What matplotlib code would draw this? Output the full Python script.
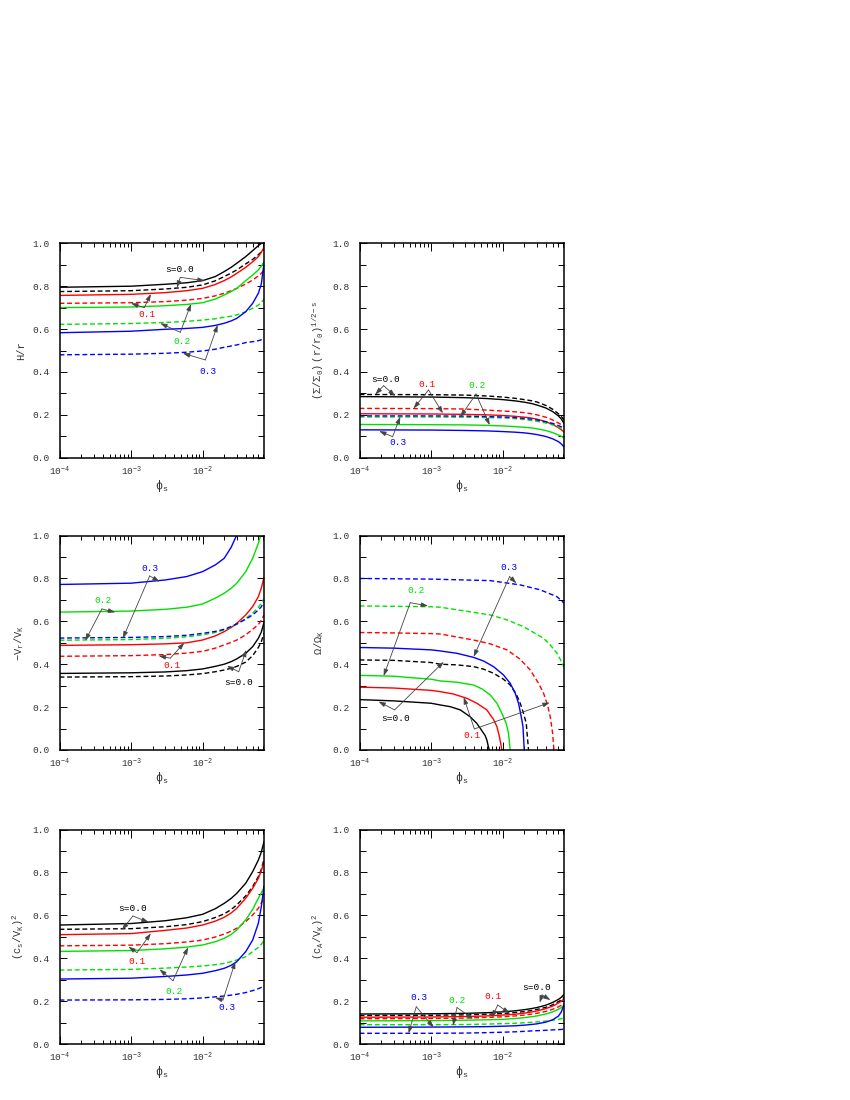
import numpy as np
import matplotlib
matplotlib.use('Agg')
import matplotlib.pyplot as plt
from matplotlib.ticker import MultipleLocator, FormatStrFormatter, LogLocator, NullFormatter, FuncFormatter

# curves for s = 0.0, 0.1, 0.2, 0.3 (solid and dashed families)
s_labels = ['s=0.0', '0.1', '0.2', '0.3']
colors = ['black', 'red', '#00e000', 'blue']

phi = [1e-4, 1e-3, 3e-3, 6e-3, 1e-2, 1.5e-2, 2e-2, 2.5e-2, 3e-2, 4e-2, 5e-2, 6e-2, 6.6e-2, 7.2e-2]
nan = np.nan

# H/r
h_solid = [
    [0.795, 0.80, 0.809, 0.816, 0.826, 0.845, 0.868, 0.888, 0.907, 0.938, 0.966, 0.989, 1.0, 1.01],
    [0.757, 0.762, 0.77, 0.779, 0.79, 0.808, 0.826, 0.843, 0.86, 0.888, 0.914, 0.938, 0.958, 0.981],
    [0.70, 0.703, 0.709, 0.715, 0.723, 0.74, 0.759, 0.775, 0.79, 0.826, 0.852, 0.876, 0.893, 0.914],
    [0.583, 0.59, 0.599, 0.603, 0.608, 0.617, 0.627, 0.638, 0.65, 0.681, 0.72, 0.767, 0.81, 0.907],
]
h_dashed = [
    [0.775, 0.779, 0.787, 0.795, 0.806, 0.825, 0.845, 0.861, 0.876, 0.904, 0.925, 0.947, 0.96, 0.972],
    [0.72, 0.723, 0.728, 0.735, 0.743, 0.755, 0.767, 0.779, 0.79, 0.81, 0.829, 0.848, 0.86, 0.876],
    [0.622, 0.626, 0.631, 0.636, 0.642, 0.648, 0.655, 0.66, 0.666, 0.681, 0.697, 0.712, 0.724, 0.739],
    [0.48, 0.483, 0.487, 0.492, 0.498, 0.506, 0.515, 0.521, 0.526, 0.537, 0.541, 0.546, 0.55, 0.554],
]

# (Sigma/Sigma0)(r/r0)^(1/2-s)
sig_solid = [
    [0.285, 0.283, 0.28, 0.276, 0.271, 0.265, 0.259, 0.253, 0.246, 0.232, 0.215, 0.195, 0.18, 0.16],
    [0.205, 0.204, 0.202, 0.2, 0.197, 0.193, 0.189, 0.185, 0.18, 0.168, 0.155, 0.14, 0.13, 0.12],
    [0.155, 0.154, 0.153, 0.151, 0.148, 0.145, 0.142, 0.139, 0.135, 0.127, 0.117, 0.106, 0.1, 0.092],
    [0.13, 0.129, 0.127, 0.125, 0.122, 0.119, 0.116, 0.112, 0.108, 0.099, 0.088, 0.075, 0.064, 0.05],
]
sig_dashed = [
    [0.295, 0.294, 0.292, 0.288, 0.283, 0.277, 0.271, 0.266, 0.26, 0.244, 0.226, 0.205, 0.192, 0.175],
    [0.23, 0.229, 0.227, 0.222, 0.218, 0.214, 0.21, 0.205, 0.2, 0.189, 0.176, 0.162, 0.154, 0.145],
    [0.19, 0.19, 0.189, 0.187, 0.186, 0.182, 0.178, 0.174, 0.17, 0.162, 0.153, 0.143, 0.137, 0.13],
    [0.195, 0.195, 0.194, 0.192, 0.19, 0.187, 0.183, 0.18, 0.176, 0.168, 0.16, 0.15, 0.144, 0.137],
]

# -Vr/VK
vr_solid = [
    [0.357, 0.36, 0.364, 0.37, 0.378, 0.39, 0.40, 0.412, 0.425, 0.451, 0.482, 0.521, 0.55, 0.595],
    [0.488, 0.491, 0.495, 0.50, 0.513, 0.532, 0.552, 0.571, 0.591, 0.63, 0.669, 0.715, 0.755, 0.805],
    [0.643, 0.648, 0.656, 0.666, 0.681, 0.708, 0.731, 0.754, 0.778, 0.832, 0.894, 0.964, 1.01, nan],
    [0.772, 0.778, 0.793, 0.809, 0.832, 0.863, 0.894, 0.945, 1.003, nan, nan, nan, nan, nan],
]
vr_dashed = [
    [0.34, 0.342, 0.345, 0.35, 0.356, 0.365, 0.373, 0.381, 0.39, 0.41, 0.44, 0.478, 0.505, 0.545],
    [0.437, 0.44, 0.445, 0.452, 0.46, 0.475, 0.49, 0.502, 0.513, 0.537, 0.563, 0.585, 0.605, 0.63],
    [0.512, 0.515, 0.521, 0.528, 0.537, 0.548, 0.56, 0.573, 0.586, 0.614, 0.638, 0.666, 0.685, 0.705],
    [0.522, 0.525, 0.529, 0.535, 0.544, 0.553, 0.563, 0.576, 0.588, 0.61, 0.63, 0.653, 0.668, 0.69],
]

# Omega/OmegaK (each curve has its own phi points)
om_solid_phi = [
    [1e-4, 3e-4, 1e-3, 1.34e-3, 1.85e-3, 2.55e-3, 3.51e-3, 4.35e-3, 5.12e-3, 5.69e-3, 6.0e-3, 6.47e-3],
    [1e-4, 3e-4, 1e-3, 1.34e-3, 2.05e-3, 3.16e-3, 4.35e-3, 6.0e-3, 7.43e-3, 8.3e-3, 9.0e-3, 9.75e-3],
    [1e-4, 3e-4, 1e-3, 1.34e-3, 2.29e-3, 3.91e-3, 5.12e-3, 6.69e-3, 8.3e-3, 9.75e-3, 1.12e-2, 1.205e-2, 1.273e-2],
    [1e-4, 3e-4, 1e-3, 1.34e-3, 2.29e-3, 3.91e-3, 5.4e-3, 7.43e-3, 1.026e-2, 1.273e-2, 1.495e-2, 1.664e-2, 1.816e-2, 1.92e-2, 2.0e-2],
]
om_solid = [
    [0.235, 0.229, 0.218, 0.21, 0.202, 0.187, 0.155, 0.124, 0.09, 0.067, 0.047, 0.0],
    [0.293, 0.289, 0.278, 0.272, 0.261, 0.241, 0.218, 0.187, 0.143, 0.109, 0.062, 0.0],
    [0.348, 0.344, 0.33, 0.322, 0.316, 0.303, 0.285, 0.257, 0.218, 0.171, 0.124, 0.078, 0.0],
    [0.478, 0.475, 0.467, 0.462, 0.451, 0.432, 0.415, 0.389, 0.35, 0.311, 0.265, 0.218, 0.155, 0.109, 0.0],
]
om_dashed_phi = [
    [1e-4, 3e-4, 1e-3, 1.34e-3, 2.29e-3, 3.91e-3, 5.4e-3, 7.43e-3, 1.026e-2, 1.273e-2, 1.545e-2, 1.757e-2, 1.955e-2, 2.133e-2, 2.296e-2],
    [1e-4, 3e-4, 1e-3, 1.34e-3, 3.91e-3, 6.69e-3, 1.145e-2, 1.757e-2, 2.425e-2, 3.17e-2, 3.72e-2, 4.23e-2, 4.62e-2, 4.98e-2, 5.2e-2],
    [1e-4, 1e-3, 1.34e-3, 6.69e-3, 1.145e-2, 1.955e-2, 3.72e-2, 4.62e-2, 5.73e-2, 6.37e-2, 7.2e-2],
    [1e-4, 1e-3, 6.69e-3, 1.757e-2, 3.34e-2, 5.73e-2, 7.2e-2],
]
om_dashed = [
    [0.42, 0.418, 0.408, 0.40, 0.397, 0.389, 0.377, 0.358, 0.33, 0.303, 0.261, 0.218, 0.171, 0.124, 0.0],
    [0.548, 0.546, 0.543, 0.541, 0.513, 0.495, 0.467, 0.423, 0.373, 0.311, 0.265, 0.21, 0.155, 0.078, 0.0],
    [0.672, 0.668, 0.666, 0.63, 0.607, 0.575, 0.521, 0.49, 0.451, 0.423, 0.385],
    [0.80, 0.797, 0.79, 0.77, 0.747, 0.715, 0.685],
]

# (cs/VK)^2
cs_solid = [
    [0.555, 0.562, 0.575, 0.589, 0.605, 0.631, 0.656, 0.679, 0.703, 0.75, 0.804, 0.858, 0.895, 0.944],
    [0.51, 0.515, 0.53, 0.541, 0.555, 0.573, 0.591, 0.611, 0.633, 0.68, 0.726, 0.773, 0.808, 0.851],
    [0.432, 0.436, 0.444, 0.452, 0.462, 0.477, 0.493, 0.511, 0.532, 0.579, 0.628, 0.68, 0.705, 0.73],
    [0.303, 0.307, 0.315, 0.322, 0.33, 0.342, 0.353, 0.367, 0.384, 0.431, 0.485, 0.563, 0.64, 0.735],
]
cs_dashed = [
    [0.535, 0.538, 0.547, 0.557, 0.571, 0.59, 0.607, 0.627, 0.649, 0.691, 0.734, 0.781, 0.815, 0.862],
    [0.458, 0.461, 0.468, 0.476, 0.485, 0.499, 0.513, 0.526, 0.54, 0.571, 0.602, 0.633, 0.657, 0.685],
    [0.345, 0.348, 0.354, 0.359, 0.364, 0.37, 0.376, 0.384, 0.392, 0.407, 0.431, 0.451, 0.465, 0.482],
    [0.205, 0.206, 0.208, 0.211, 0.215, 0.22, 0.224, 0.228, 0.232, 0.24, 0.249, 0.258, 0.264, 0.27],
]

# (cA/VK)^2
ca_solid = [
    [0.14, 0.141, 0.143, 0.146, 0.15, 0.155, 0.16, 0.165, 0.17, 0.181, 0.194, 0.208, 0.218, 0.232],
    [0.125, 0.126, 0.128, 0.131, 0.135, 0.139, 0.144, 0.149, 0.154, 0.165, 0.177, 0.191, 0.2, 0.21],
    [0.108, 0.109, 0.111, 0.113, 0.115, 0.119, 0.123, 0.127, 0.131, 0.14, 0.15, 0.162, 0.17, 0.18],
    [0.078, 0.079, 0.08, 0.081, 0.083, 0.085, 0.088, 0.091, 0.094, 0.102, 0.113, 0.13, 0.15, 0.185],
]
ca_dashed = [
    [0.133, 0.134, 0.136, 0.139, 0.142, 0.147, 0.151, 0.156, 0.161, 0.171, 0.183, 0.197, 0.206, 0.218],
    [0.118, 0.119, 0.121, 0.124, 0.127, 0.131, 0.135, 0.139, 0.143, 0.152, 0.162, 0.173, 0.181, 0.19],
    [0.09, 0.09, 0.091, 0.093, 0.095, 0.097, 0.099, 0.101, 0.103, 0.107, 0.111, 0.115, 0.118, 0.12],
    [0.05, 0.05, 0.051, 0.053, 0.055, 0.057, 0.059, 0.061, 0.062, 0.064, 0.066, 0.067, 0.068, 0.069],
]

# label placement: (s index, text xy, vertex xy, arrow target 1, arrow target 2)
h_notes = [
    (0, (4.72e-3, 0.879), (4.87e-3, 0.841), (1.067e-2, 0.826), (4.37e-3, 0.793)),
    (1, (1.66e-3, 0.666), (1.53e-3, 0.70), (1.0e-3, 0.72), (1.89e-3, 0.764)),
    (2, (5.14e-3, 0.541), (4.87e-3, 0.585), (2.56e-3, 0.627), (6.87e-3, 0.717)),
    (3, (1.175e-2, 0.401), (1.09e-2, 0.456), (5.31e-3, 0.487), (1.62e-2, 0.619)),
]
sig_notes = [
    (0, (2.29e-4, 0.367), (2.17e-4, 0.336), (1.66e-4, 0.295), (3.15e-4, 0.288)),
    (1, (8.75e-4, 0.342), (9.2e-4, 0.316), (5.69e-4, 0.23), (1.46e-3, 0.207)),
    (2, (4.38e-3, 0.336), (4.24e-3, 0.297), (2.56e-3, 0.191), (6.58e-3, 0.152)),
    (3, (3.4e-4, 0.072), (2.9e-4, 0.098), (1.88e-4, 0.124), (3.7e-4, 0.191)),
]
vr_notes = [
    (3, (1.85e-3, 0.845), (1.82e-3, 0.812), (2.5e-3, 0.785), (7.69e-4, 0.521)),
    (2, (4.0e-4, 0.695), (3.91e-4, 0.658), (6.0e-4, 0.642), (2.29e-4, 0.51)),
    (1, (3.73e-3, 0.393), (3.53e-3, 0.428), (2.43e-3, 0.439), (5.54e-3, 0.50)),
    (0, (3.19e-2, 0.316), (3.19e-2, 0.365), (2.19e-2, 0.392), (4.08e-2, 0.467)),
]
om_notes = [
    (3, (1.24e-2, 0.852), (1.25e-2, 0.809), (1.55e-2, 0.778), (3.93e-3, 0.435)),
    (2, (6.2e-4, 0.743), (5.11e-4, 0.687), (9.03e-4, 0.672), (2.17e-4, 0.345)),
    (0, (3.15e-4, 0.145), (3.09e-4, 0.187), (1.84e-4, 0.226), (1.5e-3, 0.411)),
    (1, (3.73e-3, 0.067), (4.02e-3, 0.098), (2.85e-3, 0.246), (4.54e-2, 0.221)),
]
cs_notes = [
    (0, (1.06e-3, 0.633), (1.06e-3, 0.597), (1.76e-3, 0.568), (7.45e-4, 0.532)),
    (1, (1.21e-3, 0.384), (1.21e-3, 0.426), (9.2e-4, 0.454), (1.89e-3, 0.516)),
    (2, (4.02e-3, 0.247), (3.85e-3, 0.295), (2.5e-3, 0.348), (6.24e-3, 0.451)),
    (3, (2.19e-2, 0.17), (1.92e-2, 0.205), (1.5e-2, 0.216), (2.86e-2, 0.384)),
]
ca_notes = [
    (3, (6.69e-4, 0.216), (6.2e-4, 0.174), (4.84e-4, 0.05), (1.08e-3, 0.078)),
    (2, (2.3e-3, 0.205), (2.3e-3, 0.17), (2.02e-3, 0.086), (3.85e-3, 0.117)),
    (1, (7.33e-3, 0.221), (8.51e-3, 0.182), (7.1e-3, 0.124), (1.25e-2, 0.143)),
    (0, (3.02e-2, 0.264), (3.55e-2, 0.229), (3.29e-2, 0.193), (4.64e-2, 0.205)),
]

plt.rcParams['font.family'] = ['Liberation Mono', 'DejaVu Sans']
plt.rcParams['mathtext.fontset'] = 'custom'
plt.rcParams['mathtext.rm'] = 'Liberation Mono'
plt.rcParams['mathtext.it'] = 'Liberation Mono:italic'
plt.rcParams['mathtext.bf'] = 'Liberation Mono:bold'
plt.rcParams['mathtext.default'] = 'regular'

fig = plt.figure(figsize=(8.5, 11), dpi=100)

lefts = [0.070, 0.423]
bottoms = [0.5839, 0.3182, 0.0509]
w, h = 0.2406, 0.1949

tick_col = '#333333'


def setup(ax, ylabel):
    ax.set_xscale('log')
    ax.set_xlim(1e-4, 7.2e-2)
    ax.set_ylim(0, 1)
    ax.yaxis.set_major_locator(MultipleLocator(0.2))
    ax.yaxis.set_minor_locator(MultipleLocator(0.1))
    ax.yaxis.set_major_formatter(FormatStrFormatter('%.1f'))
    ax.xaxis.set_major_locator(LogLocator(base=10, numticks=10))
    ax.xaxis.set_minor_locator(LogLocator(base=10, subs=np.arange(2, 10), numticks=20))
    ax.xaxis.set_minor_formatter(NullFormatter())
    ax.xaxis.set_major_formatter(FuncFormatter(
        lambda v, p: r'$10^{%d}$' % int(round(np.log10(v)))))
    ax.tick_params(which='both', direction='in', top=True, right=True,
                   labelsize=6.8, labelcolor=tick_col, width=0.7)
    ax.tick_params(axis='y', which='major', length=5, pad=7)
    ax.tick_params(axis='y', which='minor', length=4)
    ax.tick_params(axis='x', which='major', length=6, pad=5)
    ax.tick_params(axis='x', which='minor', length=3)
    for sp in ax.spines.values():
        sp.set_linewidth(1.1)
    ax.set_ylabel(ylabel, fontsize=7.5, color=tick_col)
    ax.yaxis.set_label_coords(-0.165, 0.5)
    ax.set_xlabel(r'$\phi_s$', fontsize=8.5, color=tick_col)
    ax.xaxis.set_label_coords(0.5, -0.095)


def draw(ax, solid, dashed, notes, solid_x=None, dashed_x=None):
    for i in range(4):
        xs = solid_x[i] if solid_x else phi
        xd = dashed_x[i] if dashed_x else phi
        ax.plot(xs, solid[i], color=colors[i], lw=1.0)
        ax.plot(xd, dashed[i], color=colors[i], lw=1.0, dashes=(3.5, 2))
    for i, txy, vxy, t1, t2 in notes:
        ax.text(txy[0], txy[1], s_labels[i], color=colors[i], fontsize=6.8,
                ha='center', va='center')
        for t in (t1, t2):
            ax.annotate('', xy=t, xytext=vxy,
                        arrowprops=dict(arrowstyle='-|>,head_length=0.45,head_width=0.15',
                                        color='#444444', lw=0.6,
                                        shrinkA=0, shrinkB=0, mutation_scale=9))


ax1 = fig.add_axes([lefts[0], bottoms[0], w, h])
setup(ax1, 'H/r')
draw(ax1, h_solid, h_dashed, h_notes)

ax2 = fig.add_axes([lefts[1], bottoms[0], w, h])
setup(ax2, r'$(\Sigma/\Sigma_0)\ (r/r_0)^{1/2-s}$')
draw(ax2, sig_solid, sig_dashed, sig_notes)

ax3 = fig.add_axes([lefts[0], bottoms[1], w, h])
setup(ax3, r'$-V_r/V_K$')
draw(ax3, vr_solid, vr_dashed, vr_notes)

ax4 = fig.add_axes([lefts[1], bottoms[1], w, h])
setup(ax4, r'$\Omega/\Omega_K$')
draw(ax4, om_solid, om_dashed, om_notes, om_solid_phi, om_dashed_phi)

ax5 = fig.add_axes([lefts[0], bottoms[2], w, h])
setup(ax5, r'$(c_s/V_K)^2$')
draw(ax5, cs_solid, cs_dashed, cs_notes)

ax6 = fig.add_axes([lefts[1], bottoms[2], w, h])
setup(ax6, r'$(c_A/V_K)^2$')
draw(ax6, ca_solid, ca_dashed, ca_notes)

fig.savefig('out.png', dpi=100)
